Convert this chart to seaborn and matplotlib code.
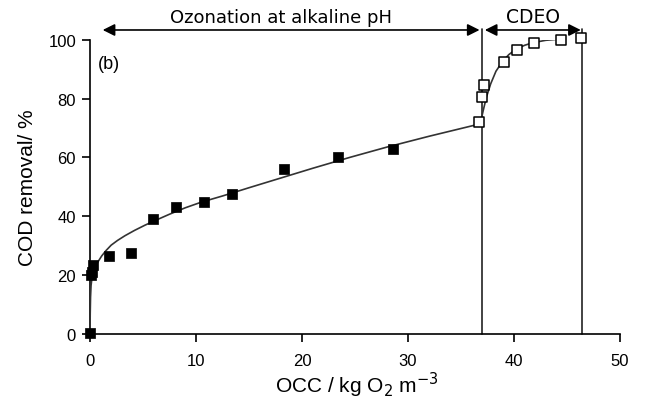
import matplotlib
matplotlib.use("Agg")
import matplotlib.pyplot as plt
import seaborn as sns
import pandas as pd

# Measured data: ozonation at alkaline pH (filled squares)
ozo_x = [0.0, 0.05, 0.15, 0.25, 1.8, 3.9, 5.95, 8.1, 10.75, 13.4, 18.3, 23.4, 28.6]
ozo_y = [0.5, 20.0, 21.0, 23.5, 26.5, 27.5, 39.0, 43.0, 45.0, 47.5, 56.0, 60.0, 63.0]

# Measured data: CDEO (open squares)
cdeo_x = [36.7, 37.0, 37.2, 39.05, 40.3, 41.9, 44.4, 46.3]
cdeo_y = [72.0, 80.5, 84.5, 92.5, 96.5, 99.0, 100.0, 100.5]

# Fitted curves
fit1_x = [0.0, 0.02, 0.05, 0.1, 0.2, 0.35, 0.55, 0.8, 1.1, 1.5, 2.0, 2.6, 3.3, 4.2, 5.2, 6.3, 7.5,
          9.0, 10.5, 12.5, 15.0, 18.0, 21.0, 24.5, 28.0, 32.0, 36.8]
fit1_y = [0.0, 7.0, 12.5, 16.5, 19.5, 21.5, 23.2, 24.8, 26.5, 28.3, 30.2, 31.8, 33.4, 35.2, 37.0,
          38.8, 40.7, 42.9, 44.8, 46.9, 49.7, 53.0, 56.3, 60.0, 63.5, 67.2, 71.4]
fit2_x = [36.85, 37.1, 37.4, 37.8, 38.3, 38.9, 39.5, 40.2, 41.0, 41.8, 43.0, 44.3, 46.3]
fit2_y = [72.0, 76.0, 80.5, 85.0, 89.3, 92.5, 94.9, 96.8, 98.1, 99.0, 99.8, 100.2, 100.5]

x_ticks = [0, 10, 20, 30, 40, 50]
y_ticks = [0, 20, 40, 60, 80, 100]
stage_bounds = [37.0, 46.4]

sns.set_style("ticks")
plt.rcParams["font.family"] = ["Liberation Sans", "DejaVu Sans"]
plt.rcParams["text.color"] = "black"
plt.rcParams["axes.labelcolor"] = "black"
plt.rcParams["xtick.color"] = "black"
plt.rcParams["ytick.color"] = "black"

fig = plt.figure(figsize=(6.45, 4.02), dpi=100)
ax = fig.add_axes([90 / 645, 1 - 335 / 402, 530 / 645, 294.3 / 402])

df_ozo = pd.DataFrame({"x": ozo_x, "y": ozo_y})
df_cdeo = pd.DataFrame({"x": cdeo_x, "y": cdeo_y})
df_f1 = pd.DataFrame({"x": fit1_x, "y": fit1_y})
df_f2 = pd.DataFrame({"x": fit2_x, "y": fit2_y})

# vertical stage boundaries
for xb in stage_bounds:
    ax.plot([xb, xb], [0, 103.5], color="#222222", lw=1.2, clip_on=False, zorder=2)

sns.lineplot(data=df_f1, x="x", y="y", ax=ax, color="#333333", lw=1.2,
             sort=False, estimator=None, zorder=3)
sns.lineplot(data=df_f2, x="x", y="y", ax=ax, color="#333333", lw=1.2,
             sort=False, estimator=None, zorder=3)
sns.scatterplot(data=df_ozo, x="x", y="y", ax=ax, marker="s", s=45,
                color="black", edgecolor="black", linewidth=0.5, zorder=4, clip_on=False)
sns.scatterplot(data=df_cdeo, x="x", y="y", ax=ax, marker="s", s=42,
                facecolor="white", edgecolor="black", linewidth=1.1, zorder=4, clip_on=False)

ax.set_xlim(0, 50)
ax.set_ylim(0, 100)
ax.set_xticks(x_ticks)
ax.set_yticks(y_ticks)
ax.tick_params(axis="both", labelsize=12, length=6, width=1.2, color="black", direction="out")
ax.tick_params(axis="x", pad=8)
ax.tick_params(axis="y", pad=4)
for s in ["left", "bottom"]:
    ax.spines[s].set_linewidth(1.2)
    ax.spines[s].set_color("black")
sns.despine(ax=ax)

ax.set_xlabel("OCC / kg O$_2$ m$^{-3}$", fontsize=15)
ax.xaxis.label.set_va("baseline")
ax.xaxis.set_label_coords(0.503, -0.198)
ax.set_ylabel("COD removal/ %", fontsize=15)
ax.yaxis.set_label_coords(-0.1, 0.5)

# stage arrows
ax.annotate("", xy=(1.2, 103.3), xytext=(36.75, 103.3), annotation_clip=False,
            arrowprops=dict(arrowstyle="<|-|>", color="black", lw=1.2,
                            mutation_scale=18, shrinkA=0, shrinkB=0))
ax.annotate("", xy=(37.25, 103.3), xytext=(46.3, 103.3), annotation_clip=False,
            arrowprops=dict(arrowstyle="<|-|>", color="black", lw=1.2,
                            mutation_scale=18, shrinkA=0, shrinkB=0))
ax.text(18.0, 107.8, "Ozonation at alkaline pH", ha="center", va="center",
        fontsize=13, family=["DejaVu Sans"], clip_on=False)
ax.text(41.8, 107.8, "CDEO", ha="center", va="center",
        fontsize=13.5, family=["DejaVu Sans"], clip_on=False)
ax.text(0.7, 91.8, "(b)", ha="left", va="center", fontsize=13)

fig.savefig("out.png", dpi=100)
